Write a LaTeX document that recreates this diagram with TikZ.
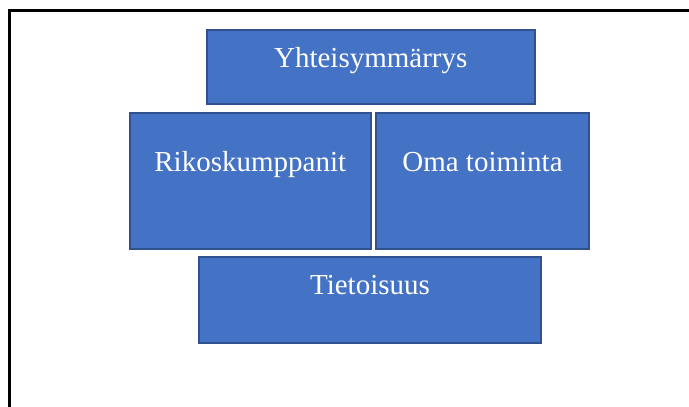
\documentclass[tikz,border=0pt]{standalone}
\usepackage{fontspec}
\setmainfont{Liberation Serif}
\definecolor{boxfill}{HTML}{4472C4}
\definecolor{boxline}{HTML}{2F528F}
\begin{document}
\begin{tikzpicture}[x=1pt,y=-1pt,
  block/.style={draw=boxline, fill=boxfill, line width=2pt, rectangle, inner sep=0pt},
  caption/.style={anchor=base, text=white, inner sep=0pt, font=\fontsize{29}{34}\selectfont}]
  \useasboundingbox (0,0) rectangle (689,407);
  % slide frame
  \draw[line width=3pt, line cap=rect] (9.5,410) -- (9.5,10) -- (692,10);
  % blocks
  \node[block, minimum width=327.5pt, minimum height=74pt] (yht) at (370.75,67) {};
  \node[block, minimum width=240.5pt, minimum height=136.5pt] (rik) at (250.25,180.75) {};
  \node[block, minimum width=213pt, minimum height=136.5pt] (oma) at (482.5,180.75) {};
  \node[block, minimum width=342pt, minimum height=86pt] (tie) at (370,300) {};
  % captions
  \node[caption] (tyht) at ([yshift=-38pt]yht.north) {Yhteisymmärrys};
  \node[caption] (trik) at ([yshift=-60pt]rik.north) {Rikoskumppanit};
  \node[caption] (toma) at ([yshift=-60pt]oma.north) {Oma toiminta};
  \node[caption] (ttie) at ([yshift=-38pt]tie.north) {Tietoisuus};
\end{tikzpicture}
\end{document}
